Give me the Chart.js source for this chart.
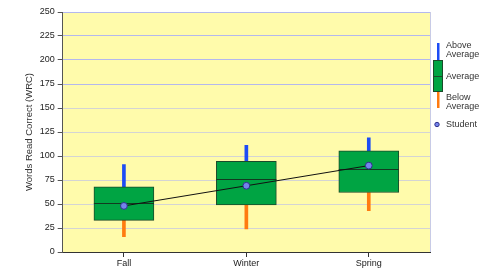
<!DOCTYPE html>
<html>
<head>
<meta charset="utf-8">
<script src="https://cdn.jsdelivr.net/npm/chart.js@4.4.0/dist/chart.umd.min.js"></script>
<style>
  html, body { margin: 0; padding: 0; background: #fff; }
  #wrap { width: 479px; height: 270px; position: relative; }
</style>
</head>
<body>
<div id="wrap"><canvas id="myChart"></canvas></div>
<script>
// data
let seasons = ['Fall', 'Winter', 'Spring']
let lowValues = [16, 24, 43]
let q1Values = [33, 49, 62]
let medianValues = [51, 76, 86.5]
let q3Values = [68, 94.5, 105.5]
let highValues = [91, 111, 119]
let studentValues = [48, 69, 90]
let yTicks = [0, 25, 50, 75, 100, 125, 150, 175, 200, 225, 250]

let legendLines = [
    { text: 'Above', y: 46 },
    { text: 'Average', y: 55 },
    { text: 'Average', y: 76.5 },
    { text: 'Below', y: 97.5 },
    { text: 'Average', y: 106.5 },
    { text: 'Student', y: 124.5 }
]

let fontFamily = '"Liberation Sans", Arial, sans-serif'

let lowBars = []
let highBars = []
let boxes = []
for (let i = 0; i < seasons.length; i++) {
    lowBars[i] = [lowValues[i], q1Values[i]]
    highBars[i] = [q3Values[i], highValues[i]]
    boxes[i] = [q1Values[i], q3Values[i]]
}

// yellow plot background, light right border
const plotBackground = {
    id: 'plotBackground',
    beforeDraw(chart) {
        const a = chart.chartArea
        const c = chart.ctx
        c.save()
        c.fillStyle = '#fffbab'
        c.fillRect(a.left, a.top, a.right - a.left, a.bottom - a.top)
        c.strokeStyle = '#c8cbe6'
        c.lineWidth = 1
        c.beginPath()
        c.moveTo(a.right + 0.5, a.top)
        c.lineTo(a.right + 0.5, a.bottom)
        c.stroke()
        c.restore()
    }
}

// median line across each box
const medianLines = {
    id: 'medianLines',
    afterDatasetDraw(chart, args) {
        if (args.index !== 2) return
        const c = chart.ctx
        const y = chart.scales.y
        c.save()
        c.strokeStyle = '#123a20'
        c.lineWidth = 1
        args.meta.data.forEach((bar, i) => {
            const py = Math.round(y.getPixelForValue(medianValues[i])) + 0.5
            c.beginPath()
            c.moveTo(bar.x - bar.width / 2, py)
            c.lineTo(bar.x + bar.width / 2, py)
            c.stroke()
        })
        c.restore()
    }
}

// legend on the right
const sideLegend = {
    id: 'sideLegend',
    afterDraw(chart) {
        const c = chart.ctx
        c.save()
        c.fillStyle = '#1d4cf5'
        c.fillRect(437, 43, 2.5, 17)
        c.fillStyle = '#ff7b10'
        c.fillRect(437, 91, 2.5, 17)
        c.fillStyle = '#00a443'
        c.strokeStyle = '#1b4a2a'
        c.lineWidth = 1
        c.fillRect(433.5, 60.5, 9, 31)
        c.strokeRect(433.5, 60.5, 9, 31)
        c.beginPath()
        c.moveTo(433.5, 76.5)
        c.lineTo(442.5, 76.5)
        c.stroke()
        c.beginPath()
        c.arc(437, 124.5, 2.2, 0, Math.PI * 2)
        c.fillStyle = '#7484ec'
        c.fill()
        c.strokeStyle = '#30308a'
        c.stroke()
        c.fillStyle = '#333'
        c.font = '9px ' + fontFamily
        c.textBaseline = 'middle'
        legendLines.forEach(l => c.fillText(l.text, 446, l.y))
        c.restore()
    }
}

new Chart(document.getElementById('myChart'), {
    data: {
        labels: seasons,
        datasets: [{
            type: 'line',
            label: 'Student',
            data: studentValues,
            order: 0,
            borderColor: '#111',
            borderWidth: 1,
            pointRadius: 3.4,
            pointBorderWidth: 1,
            pointBackgroundColor: '#7484ec',
            pointBorderColor: '#30308a'
        }, {
            type: 'bar',
            label: 'Below Average',
            data: lowBars,
            order: 3,
            grouped: false,
            barThickness: 3,
            backgroundColor: '#ff7b10'
        }, {
            type: 'bar',
            label: 'Average',
            data: boxes,
            order: 1,
            grouped: false,
            barThickness: 60,
            backgroundColor: '#00a443',
            borderColor: '#1b4a2a',
            borderWidth: 1,
            borderSkipped: false
        }, {
            type: 'bar',
            label: 'Above Average',
            data: highBars,
            order: 2,
            grouped: false,
            barThickness: 3,
            backgroundColor: '#1d4cf5'
        }]
    },
    options: {
        responsive: true,
        maintainAspectRatio: false,
        animation: false,
        layout: {
            padding: { left: 20, right: 49, top: 12, bottom: 0 }
        },
        plugins: {
            legend: { display: false },
            tooltip: { enabled: false }
        },
        scales: {
            x: {
                afterFit(scale) { scale.height = 18 },
                grid: {
                    offset: false,
                    drawOnChartArea: false,
                    tickLength: 5,
                    color: '#333'
                },
                border: { color: '#333', width: 1 },
                ticks: {
                    color: '#222',
                    padding: 1,
                    font: { family: fontFamily, size: 9 }
                }
            },
            y: {
                min: 0,
                max: 250,
                afterFit(scale) { scale.width = 42.7 },
                afterBuildTicks(scale) { scale.ticks = yTicks.map(v => ({ value: v })) },
                grid: {
                    tickLength: 5,
                    color: ctx => ctx.tick && ctx.tick.value >= 175 ? '#b4b8ee' : '#d4d4d4',
                    tickColor: '#555'
                },
                border: { color: '#555', width: 1 },
                ticks: {
                    color: '#222',
                    padding: 3,
                    font: { family: fontFamily, size: 9 }
                },
                title: {
                    display: true,
                    text: 'Words Read Correct (WRC)',
                    color: '#333',
                    padding: { top: 4, bottom: 0 },
                    font: { family: fontFamily, size: 9.5 }
                }
            }
        }
    },
    plugins: [plotBackground, medianLines, sideLegend]
});
</script>
</body>
</html>
